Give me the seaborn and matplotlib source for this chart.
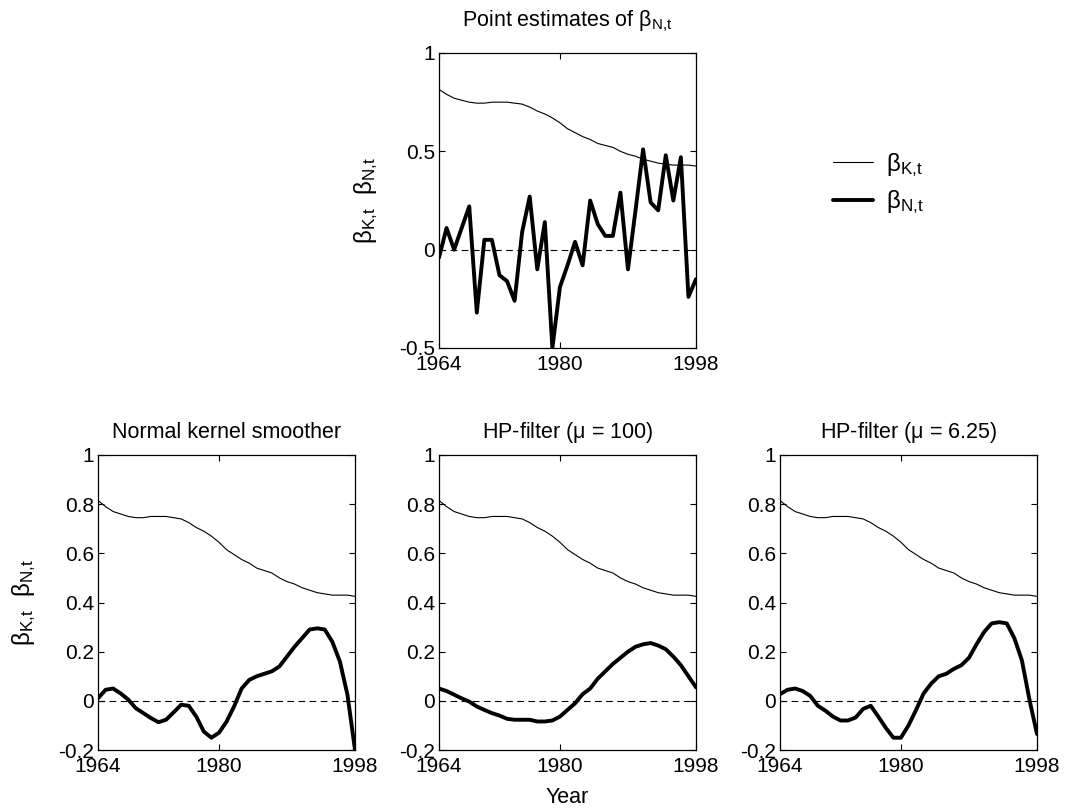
import numpy as np
import pandas as pd
import matplotlib
matplotlib.use("Agg")
import matplotlib.pyplot as plt
import seaborn as sns

years = list(range(1964, 1999))

beta_K = [0.815, 0.79, 0.77, 0.76, 0.75, 0.745, 0.745, 0.75, 0.75, 0.75,
          0.745, 0.74, 0.725, 0.705, 0.69, 0.67, 0.645, 0.615, 0.595, 0.575,
          0.56, 0.54, 0.53, 0.52, 0.50, 0.485, 0.475, 0.46, 0.45, 0.44,
          0.435, 0.43, 0.43, 0.43, 0.425]

beta_N_point = [-0.04, 0.11, 0.0, 0.11, 0.22, -0.32, 0.05, 0.05, -0.13, -0.16,
                -0.26, 0.09, 0.27, -0.10, 0.14, -0.50, -0.19, -0.08, 0.04, -0.08,
                0.25, 0.13, 0.07, 0.07, 0.29, -0.10, 0.20, 0.51, 0.24, 0.20,
                0.48, 0.25, 0.47, -0.24, -0.15]

beta_N_kernel = [0.01, 0.045, 0.05, 0.03, 0.005, -0.03, -0.05, -0.07, -0.087, -0.077,
                 -0.047, -0.016, -0.02, -0.064, -0.125, -0.15, -0.13, -0.085, -0.023, 0.05,
                 0.085, 0.10, 0.11, 0.12, 0.14, 0.18, 0.22, 0.255, 0.29, 0.295,
                 0.29, 0.24, 0.16, 0.025, -0.2]

beta_N_hp100 = [0.05, 0.04, 0.025, 0.01, -0.003, -0.023, -0.037, -0.05, -0.06, -0.073,
                -0.077, -0.077, -0.077, -0.084, -0.084, -0.08, -0.064, -0.037, -0.01, 0.027,
                0.05, 0.09, 0.12, 0.15, 0.175, 0.20, 0.22, 0.23, 0.235, 0.225,
                0.21, 0.18, 0.145, 0.10, 0.055]

beta_N_hp625 = [0.027, 0.045, 0.05, 0.04, 0.02, -0.02, -0.04, -0.064, -0.08, -0.08,
                -0.068, -0.033, -0.02, -0.064, -0.11, -0.15, -0.15, -0.10, -0.037, 0.03,
                0.07, 0.10, 0.11, 0.13, 0.145, 0.175, 0.23, 0.28, 0.315, 0.32,
                0.315, 0.255, 0.165, 0.005, -0.135]

x_ticks = [1964, 1980, 1998]
x_ticklabels = ["1964", "1980", "1998"]
top_yticks = [-0.5, 0, 0.5, 1]
top_yticklabels = ["-0.5", "0", "0.5", "1"]
bot_yticks = [-0.2, 0, 0.2, 0.4, 0.6, 0.8, 1]
bot_yticklabels = ["-0.2", "0", "0.2", "0.4", "0.6", "0.8", "1"]

titles = ["Normal kernel smoother", r"HP-filter ($\mathrm{\mu}$ = 100)", r"HP-filter ($\mathrm{\mu}$ = 6.25)"]

sns.set_style("ticks")
plt.rcParams["font.family"] = ["Liberation Sans", "DejaVu Sans"]
plt.rcParams["mathtext.fontset"] = "custom"
plt.rcParams["mathtext.rm"] = "Liberation Sans"
plt.rcParams["mathtext.it"] = "Liberation Sans:italic"
plt.rcParams["mathtext.bf"] = "Liberation Sans:bold"
plt.rcParams["font.size"] = 15
plt.rcParams["text.color"] = "black"
plt.rcParams["axes.labelcolor"] = "black"
plt.rcParams["axes.titlecolor"] = "black"

TICK = 15
TITLE = 15.5
GREEK = 17.5
bK = r"\mathrm{\beta_{K{,}t}}"
bN = r"\mathrm{\beta_{N{,}t}}"
ylab = "$" + bK + r"\ \ " + bN + "$"

fig = plt.figure(figsize=(10.74, 8.08), dpi=100)
W, H = 1074, 808

def make_ax(l, r, t, b):
    return fig.add_axes([l / W, 1 - b / H, (r - l) / W, (b - t) / H])

def style(ax, yticks, yticklabels, ylim):
    ax.set_xlim(1964, 1998)
    ax.set_ylim(*ylim)
    ax.set_xticks(x_ticks)
    ax.set_xticklabels(x_ticklabels)
    ax.set_yticks(yticks)
    ax.set_yticklabels(yticklabels)
    ax.tick_params(direction="in", top=True, right=True, length=4, width=0.8,
                   labelsize=TICK, colors="black", labelcolor="black", pad=3)
    ax.tick_params(axis="x", pad=5)
    for s in ax.spines.values():
        s.set_visible(True)
        s.set_linewidth(0.9)
        s.set_color("black")
    ax.axhline(0, color="black", lw=0.8, ls=(0, (6, 4)))
    ax.set_xlabel("")
    ax.set_ylabel("")

def draw(ax, nvals):
    df = pd.DataFrame({"year": years, "K": beta_K, "N": nvals})
    sns.lineplot(data=df, x="year", y="K", ax=ax, color="black", lw=0.8, label="$" + bK + "$", legend=False)
    sns.lineplot(data=df, x="year", y="N", ax=ax, color="black", lw=2.8, label="$" + bN + "$", legend=False)

# top
ax0 = make_ax(439, 696, 53, 348)
draw(ax0, beta_N_point)
style(ax0, top_yticks, top_yticklabels, (-0.5, 1))
ax0.set_title("Point estimates of $" + bN + "$", fontsize=TITLE, pad=19, color="black")
ax0.set_ylabel(ylab, fontsize=GREEK, color="black")
ax0.yaxis.set_label_coords(-0.23, 0.5)

handles, labels = ax0.get_legend_handles_labels()
leg = fig.legend(handles, labels, loc="upper left", bbox_to_anchor=(833 / W, 1 - 151 / H),
                 frameon=False, fontsize=GREEK, handlelength=1.65, handletextpad=0.55,
                 labelspacing=0.4, borderpad=0, borderaxespad=0)
for txt in leg.get_texts():
    txt.set_color("black")

lefts = [98, 439, 780]
series = [beta_N_kernel, beta_N_hp100, beta_N_hp625]
for i, (l, s, t) in enumerate(zip(lefts, series, titles)):
    ax = make_ax(l, l + 257, 455, 750)
    draw(ax, s)
    style(ax, bot_yticks, bot_yticklabels, (-0.2, 1))
    ax.set_title(t, fontsize=TITLE, pad=12, color="black")
    if i == 0:
        ax.set_ylabel(ylab, fontsize=GREEK, color="black")
        ax.yaxis.set_label_coords(-0.233, 0.5)
    if i == 1:
        ax.set_xlabel("Year", fontsize=TITLE, color="black")
        ax.xaxis.set_label_coords(0.5, -0.125)

fig.savefig("out.png", dpi=100, facecolor="white")
